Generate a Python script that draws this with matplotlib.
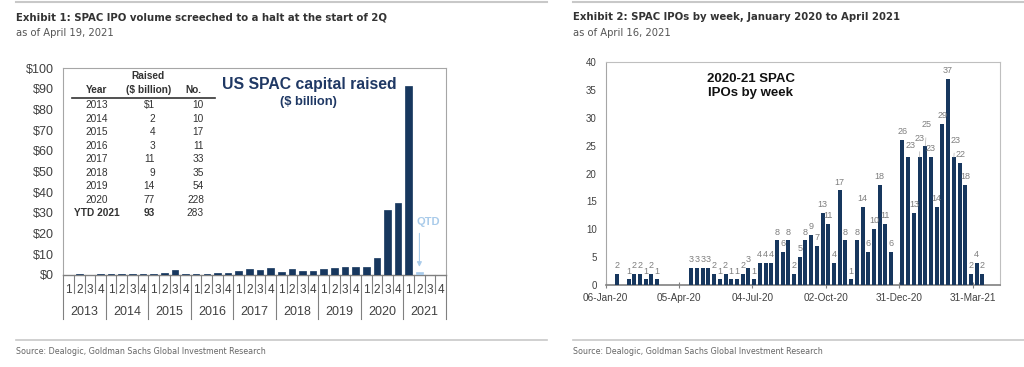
import matplotlib
matplotlib.use("Agg")
import matplotlib.pyplot as plt
import matplotlib.dates as mdates
from matplotlib import font_manager
from matplotlib.font_manager import FontProperties
from matplotlib.lines import Line2D
import pandas as pd

# ---------------- data ----------------
years = ["2013", "2014", "2015", "2016", "2017", "2018", "2019", "2020", "2021"]
quarter_labels = ["1", "2", "3", "4"]
capital_raised_q = [0.1, 0.4, 0.2, 0.3,
                    0.4, 0.5, 0.4, 0.7,
                    0.3, 0.9, 2.4, 0.3,
                    0.3, 0.7, 0.9, 1.1,
                    2.1, 2.9, 2.6, 3.4,
                    1.6, 2.9, 2.1, 2.1,
                    3.0, 3.4, 3.7, 3.7,
                    3.7, 8.0, 31.3, 34.8,
                    91.2, 1.6, 0.0, 0.0]
qtd_quarter = 33

table_years = ["2013", "2014", "2015", "2016", "2017", "2018", "2019", "2020", "YTD 2021"]
table_raised = ["$1", "2", "4", "3", "11", "9", "14", "77", "93"]
table_count = ["10", "10", "17", "11", "33", "35", "54", "228", "283"]

week_start = "2020-01-06"
weekly_ipos = [0, 0, 2, 0, 1, 2, 2, 1, 2, 1,
               0, 0, 0, 0, 0, 3, 3, 3, 3, 2,
               1, 2, 1, 1, 2, 3, 1, 4, 4, 4,
               8, 6, 8, 2, 5, 8, 9, 7, 13, 11,
               4, 17, 8, 1, 8, 14, 6, 10, 18, 11,
               6, 0, 26, 23, 13, 23, 25, 23, 14, 29,
               37, 23, 22, 18, 2, 4, 2]

# ---------------- fonts ----------------
SANS = "Liberation Sans"
plt.rcParams["font.family"] = [SANS, "DejaVu Sans"]


def find_narrow(bold):
    best = None
    for f in font_manager.fontManager.ttflist:
        nm = f.name.lower()
        fn = f.fname.lower()
        narrow = ("narrow" in nm or "condensed" in nm or "condensed" in fn or "narrow" in fn
                  or str(f.stretch) in ("condensed", "semi-condensed", "extra-condensed"))
        if not narrow or "oblique" in fn or "italic" in fn:
            continue
        w = f.weight if isinstance(f.weight, int) else (700 if "bold" in str(f.weight) else 400)
        isbold = w >= 600
        if isbold != bold:
            continue
        score = 0 if "liberation" in nm else (1 if "dejavu" in nm else 2)
        if best is None or score < best[0]:
            best = (score, f.fname)
    return best[1] if best else None


nb = find_narrow(True)
nr = find_narrow(False)
if nb and nr:
    TITLE_FP = dict(fontproperties=FontProperties(fname=nb, size=8.1))
    SUB_FP = dict(fontproperties=FontProperties(fname=nr, size=8.0))
    SRC_FP = dict(fontproperties=FontProperties(fname=nr, size=6.4))
else:
    TITLE_FP = dict(family=SANS, weight="bold", fontsize=8.6)
    SUB_FP = dict(family=SANS, fontsize=8.0)
    SRC_FP = dict(family=SANS, fontsize=6.4)

NAVY = "#17375E"
LIGHTBLUE = "#A9CBEA"
GRID = "#BFBFBF"
AXIS = "#808080"
TXT = "#404040"

W, H = 1024, 367
fig = plt.figure(figsize=(W / 100, H / 100), dpi=100)


def fx(x):
    return x / W


def fy(y):
    return 1 - y / H


# rules, titles, sources
for x0, x1 in [(16, 547), (573, 1024)]:
    fig.add_artist(Line2D([fx(x0), fx(x1)], [fy(1.5), fy(1.5)], color="#C8C8C8", lw=1.5))
    fig.add_artist(Line2D([fx(x0), fx(x1)], [fy(340), fy(340)], color="#C8C8C8", lw=1.2))

fig.text(fx(16), fy(17), "Exhibit 1: SPAC IPO volume screeched to a halt at the start of 2Q",
         color="#333333", va="center", **TITLE_FP)
fig.text(fx(16), fy(33), "as of April 19, 2021", color="#555555", va="center", **SUB_FP)
fig.text(fx(573), fy(17), "Exhibit 2: SPAC IPOs by week, January 2020 to April 2021",
         color="#333333", va="center", **TITLE_FP)
fig.text(fx(573), fy(33), "as of April 16, 2021", color="#555555", va="center", **SUB_FP)
for x0 in (16, 573):
    fig.text(fx(x0), fy(352), "Source: Dealogic, Goldman Sachs Global Investment Research",
             color="#666666", va="center", **SRC_FP)

# ---------------- left chart ----------------
axL = fig.add_axes([fx(63.3), fy(275), fx(446) - fx(63.3), fy(68.3) - fy(275)])
n_q = len(capital_raised_q)
xs = list(range(n_q))
colors = [LIGHTBLUE if i == qtd_quarter else NAVY for i in xs]
axL.bar(xs, capital_raised_q, width=0.62, color=colors, edgecolor=colors, lw=0.5, zorder=3)
axL.set_xlim(-0.5, n_q - 0.5)
axL.set_ylim(0, 100)
axL.set_yticks(range(0, 101, 10))
axL.set_yticklabels([f"${v}" for v in range(0, 101, 10)], fontsize=9, color=TXT)
axL.tick_params(axis="y", length=0, pad=7)
axL.set_xticks([])
for s in ("top", "right", "left"):
    axL.spines[s].set_color("#A6A6A6")
    axL.spines[s].set_linewidth(0.8)
axL.spines["bottom"].set_color(AXIS)
axL.spines["bottom"].set_linewidth(1.0)

tr = axL.get_xaxis_transform()
for i in range(n_q):
    axL.text(i, -0.072, quarter_labels[i % 4], transform=tr, ha="center", va="center",
             fontsize=8.5, color=TXT)
for i in range(n_q + 1):
    depth = -0.213 if i % 4 == 0 else -0.087
    axL.add_line(Line2D([i - 0.5, i - 0.5], [0, depth], transform=tr, color=AXIS, lw=0.8, clip_on=False))
for k, yr in enumerate(years):
    axL.text(4 * k + 1.5, -0.179, yr, transform=tr, ha="center", va="center", fontsize=9, color=TXT)

# QTD annotation
axL.annotate("", xy=(qtd_quarter, 2.6), xytext=(qtd_quarter, 21.5),
             arrowprops=dict(arrowstyle="-|>", color=LIGHTBLUE, lw=0.8, mutation_scale=7))
axL.text(qtd_quarter + 0.8, 25.6, "QTD", color=LIGHTBLUE, fontsize=8, weight="bold", ha="center", va="center")

# headline
fig.text(fx(309), fy(85), "US SPAC capital raised", color="#1F3864", fontsize=11.3, weight="bold",
         ha="center", va="center")
fig.text(fx(308), fy(101.5), "($ billion)", color="#1F3864", fontsize=9.3, weight="bold",
         ha="center", va="center")

# table
fig.text(fx(148), fy(75.7), "Raised", fontsize=7.3, weight="bold", color="#333333", ha="center", va="center")
fig.text(fx(97), fy(90), "Year", fontsize=7.3, weight="bold", color="#333333", ha="center", va="center")
fig.text(fx(149), fy(90), "($ billion)", fontsize=7.3, weight="bold", color="#333333", ha="center", va="center")
fig.text(fx(193), fy(90), "No.", fontsize=7.3, weight="bold", color="#333333", ha="center", va="center")
fig.add_artist(Line2D([fx(72), fx(215)], [fy(97.5), fy(97.5)], color="#333333", lw=1.2))
for r, (yr, rs, nn) in enumerate(zip(table_years, table_raised, table_count)):
    yy = fy(105 + r * 13.55)
    bold = "bold" if yr.startswith("YTD") else "normal"
    fig.text(fx(97), yy, yr, fontsize=7.3, weight=bold, color="#333333", ha="center", va="center")
    fig.text(fx(155), yy, rs, fontsize=7.3, weight=bold, color="#333333", ha="right", va="center")
    fig.text(fx(204), yy, nn, fontsize=7.3, color="#333333", ha="right", va="center")

# ---------------- right chart ----------------
axR = fig.add_axes([fx(605.7), fy(285), fx(999.5) - fx(605.7), fy(62.3) - fy(285)])
dates = pd.date_range(week_start, periods=len(weekly_ipos), freq="7D")
axR.bar(dates, weekly_ipos, width=4.9, color=NAVY, zorder=3)
axR.set_ylim(0, 40)
axR.set_yticks(range(0, 41, 5))
axR.tick_params(axis="y", length=0, pad=6.5, labelsize=7, labelcolor=TXT)
axR.set_xlim(pd.Timestamp("2020-01-06"), pd.Timestamp("2021-05-03"))
axR.set_xticks(pd.date_range(week_start, periods=6, freq="90D"))
axR.xaxis.set_major_formatter(mdates.DateFormatter("%d-%b-%y"))
axR.tick_params(axis="x", direction="inout", length=4, color=AXIS, labelsize=7.2, labelcolor=TXT, pad=4)
for s in ("top", "right"):
    axR.spines[s].set_color(GRID)
    axR.spines[s].set_linewidth(0.8)
axR.spines["left"].set_color("#A6A6A6")
axR.spines["left"].set_linewidth(0.8)
axR.spines["bottom"].set_color(AXIS)
axR.spines["bottom"].set_linewidth(1.2)

label_offsets = {53: (2, 8.5), 55: (0, 13), 56: (1, 15), 61: (1, 12), 62: (1, 6)}
for i, (d, v) in enumerate(zip(dates, weekly_ipos)):
    if v == 0:
        continue
    dx, dy = label_offsets.get(i, (0, 6))
    axR.annotate(str(v), xy=(d, v), xytext=(dx, dy), textcoords="offset points",
                 ha="center", va="center", fontsize=6.5, color="#7F7F7F",
                 arrowprops=(dict(arrowstyle="-", color="#BFBFBF", lw=0.6, shrinkA=4, shrinkB=0)
                             if dy > 9 else None))

fig.text(fx(751), fy(86), "2020-21 SPAC\nIPOs by week", fontsize=9.5, weight="bold", color="#111111",
         ha="center", va="center", linespacing=1.15)

fig.savefig("out.png", dpi=100)
